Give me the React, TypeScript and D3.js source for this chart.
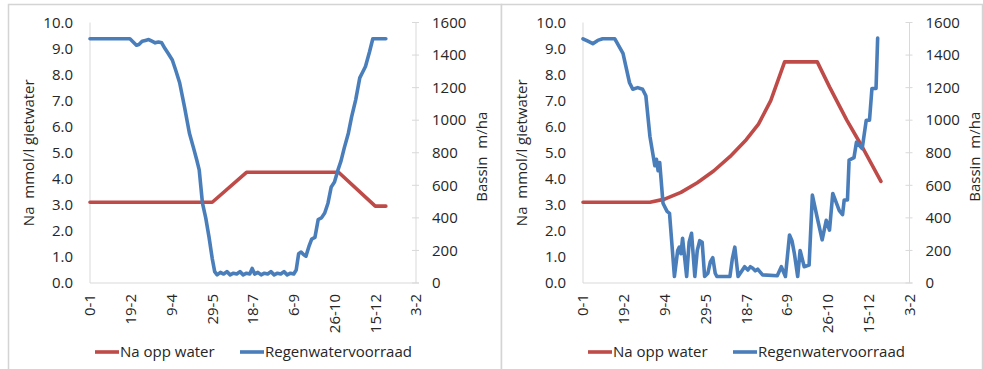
import React, { useEffect, useRef } from 'react';
import * as d3 from 'd3';

// x axis: day number, labelled as d-m every 50 days
const tickDays = [0, 50, 100, 150, 200, 250, 300, 350, 400];
const tickLabels = ["0-1", "19-2", "9-4", "29-5", "18-7", "6-9", "26-10", "15-12", "3-2"];
const naTicks = [0, 1, 2, 3, 4, 5, 6, 7, 8, 9, 10];
const rainTicks = [0, 200, 400, 600, 800, 1000, 1200, 1400, 1600];

const seriesNames = ["Na opp water", "Regenwatervoorraad"];

// left chart
const naLeft: [number, number][] = [
  [0, 3.1], [150, 3.1], [192, 4.25], [305, 4.25], [350, 2.95], [363, 2.95],
];
const rainLeft: [number, number][] = [
  [0, 1500], [49, 1500], [53, 1480], [57, 1460], [60, 1465], [64, 1485], [68, 1490], [72, 1495],
  [76, 1485], [80, 1475], [84, 1480], [88, 1475], [92, 1440], [96, 1410], [101, 1370], [105, 1310],
  [110, 1230], [116, 1080], [122, 920], [127, 830], [131, 755], [134, 695], [138, 490], [142, 400],
  [146, 283], [150, 150], [153, 70], [156, 50], [160, 65], [164, 55], [168, 70], [172, 50],
  [176, 60], [180, 55], [184, 70], [188, 50], [192, 60], [196, 55], [199, 90], [202, 55],
  [206, 65], [210, 50], [214, 60], [218, 55], [222, 70], [226, 50], [230, 60], [234, 55],
  [238, 70], [242, 50], [246, 60], [250, 55], [253, 80], [256, 180], [259, 190], [262, 175],
  [265, 165], [269, 230], [272, 270], [276, 280], [280, 390], [284, 400], [288, 430], [292, 490],
  [296, 590], [300, 620], [304, 690], [308, 750], [312, 830], [317, 920], [321, 1020], [326, 1125],
  [331, 1260], [334, 1290], [338, 1330], [343, 1420], [347, 1500], [363, 1500],
];

// right chart
const naRight: [number, number][] = [
  [0, 3.1], [82, 3.1], [100, 3.22], [120, 3.48], [140, 3.85], [160, 4.3], [180, 4.85],
  [200, 5.5], [215, 6.1], [230, 7.0], [247, 8.49], [287, 8.49], [302, 7.53], [323, 6.26],
  [342, 5.23], [365, 3.9],
];
const rainRight: [number, number][] = [
  [0, 1500], [6, 1485], [12, 1470], [18, 1490], [24, 1500], [39, 1500], [49, 1410], [57, 1230],
  [61, 1190], [67, 1200], [73, 1190], [77, 1150], [82, 900], [86, 780], [88, 720], [90, 760],
  [92, 690], [94, 740], [98, 490], [103, 440], [106, 428], [112, 40], [116, 200], [118, 220],
  [120, 180], [122, 275], [127, 40], [130, 250], [133, 305], [137, 40], [140, 200], [143, 260],
  [146, 250], [149, 40], [153, 60], [156, 130], [159, 155], [162, 60], [164, 40], [180, 40],
  [183, 150], [186, 220], [190, 40], [198, 100], [202, 80], [205, 100], [208, 90], [211, 75],
  [214, 85], [220, 50], [238, 45], [243, 100], [248, 40], [253, 295], [256, 260], [259, 180],
  [263, 40], [266, 200], [271, 100], [277, 110], [281, 540], [287, 400], [293, 265], [298, 385],
  [302, 325], [306, 550], [314, 445], [318, 420], [320, 510], [324, 510], [326, 755], [332, 770],
  [335, 865], [342, 825], [347, 1000], [351, 1000], [354, 1195], [359, 1195], [361, 1505],
];

interface PanelSpec {
  x0: number;
  x1: number;
  plotLeft: number;
  plotRight: number;
  rightTitleOffset: number;
  na: [number, number][];
  rain: [number, number][];
}

const panels: PanelSpec[] = [
  { x0: 8, x1: 501, plotLeft: 90, plotRight: 416, rightTitleOffset: 71, na: naLeft, rain: rainLeft },
  { x0: 501, x1: 982, plotLeft: 583, plotRight: 909.5, rightTitleOffset: 70, na: naRight, rain: rainRight },
];

const RED = "#be4b48";
const BLUE = "#4a7ebb";
const FONT = "'Open Sans', sans-serif";
const LW = 3.6;

const App: React.FC = () => {
  const svgRef = useRef<SVGSVGElement>(null);

  useEffect(() => {
    if (!svgRef.current) return;
    const svg = d3.select(svgRef.current);
    svg.selectAll("*").remove();

    const top = 22.5;
    const bottom = 283;

    panels.forEach(p => {
      const g = svg.append("g");

      g.append("rect")
        .attr("x", p.x0 + 0.5)
        .attr("y", 4.5)
        .attr("width", p.x1 - p.x0)
        .attr("height", 380)
        .attr("fill", "#fff")
        .attr("stroke", "#d4d4d4")
        .attr("stroke-width", 1.5);

      const x = d3.scaleLinear().domain([0, 400]).range([p.plotLeft, p.plotRight]);
      const yNa = d3.scaleLinear().domain([0, 10]).range([bottom, top]);
      const yRain = d3.scaleLinear().domain([0, 1600]).range([bottom, top]);

      // axis lines
      g.append("line")
        .attr("x1", p.plotLeft).attr("x2", p.plotLeft)
        .attr("y1", top).attr("y2", bottom)
        .attr("stroke", "#d9d9d9");
      g.append("line")
        .attr("x1", p.plotRight).attr("x2", p.plotRight)
        .attr("y1", top).attr("y2", bottom)
        .attr("stroke", "#d9d9d9");
      g.append("line")
        .attr("x1", p.plotLeft).attr("x2", p.plotRight + 3)
        .attr("y1", bottom).attr("y2", bottom)
        .attr("stroke", "#d9d9d9");

      // right axis tick marks
      g.selectAll(".rtick")
        .data(rainTicks)
        .join("line")
        .attr("x1", p.plotRight - 4).attr("x2", p.plotRight + 3)
        .attr("y1", d => yRain(d)).attr("y2", d => yRain(d))
        .attr("stroke", "#d9d9d9");

      // left tick labels
      g.selectAll(".nalab")
        .data(naTicks)
        .join("text")
        .attr("x", p.plotLeft - 17)
        .attr("y", d => yNa(d))
        .attr("dy", "0.35em")
        .attr("text-anchor", "end")
        .style("font-family", FONT)
        .style("font-size", "15px")
        .style("fill", "#262626")
        .text(d => d3.format(".1f")(d));

      // right tick labels
      g.selectAll(".rainlab")
        .data(rainTicks)
        .join("text")
        .attr("x", p.plotRight + 16)
        .attr("y", d => yRain(d))
        .attr("dy", "0.35em")
        .attr("text-anchor", "start")
        .style("font-family", FONT)
        .style("font-size", "15px")
        .style("fill", "#262626")
        .text(d => String(d));

      // x tick labels (rotated)
      g.selectAll(".xlab")
        .data(tickDays)
        .join("text")
        .attr("transform", d => `translate(${x(d)},294) rotate(-90)`)
        .attr("dy", "0.35em")
        .attr("text-anchor", "end")
        .style("font-family", FONT)
        .style("font-size", "15px")
        .style("fill", "#262626")
        .text((d, i) => tickLabels[i]);

      // axis titles
      const midY = (top + bottom) / 2;
      g.append("text")
        .attr("transform", `translate(${p.plotLeft - 56},${midY}) rotate(-90)`)
        .attr("text-anchor", "middle")
        .style("font-family", FONT)
        .style("font-size", "15px")
        .style("fill", "#262626")
        .style("white-space", "pre")
        .text("Na  mmol/l gietwater");
      g.append("text")
        .attr("transform", `translate(${p.plotRight + p.rightTitleOffset},${midY + 4}) rotate(-90)`)
        .attr("text-anchor", "middle")
        .style("font-family", FONT)
        .style("font-size", "15px")
        .style("fill", "#262626")
        .style("white-space", "pre")
        .text("Bassin  m/ha");

      // series
      const naLine = d3.line<[number, number]>()
        .x(d => x(d[0]))
        .y(d => yNa(d[1]));
      const rainLine = d3.line<[number, number]>()
        .x(d => x(d[0]))
        .y(d => yRain(d[1]));

      g.append("path")
        .attr("d", naLine(p.na) ?? "")
        .attr("fill", "none")
        .attr("stroke", RED)
        .attr("stroke-width", LW)
        .attr("stroke-linejoin", "round")
        .attr("stroke-linecap", "round");

      g.append("path")
        .attr("d", rainLine(p.rain) ?? "")
        .attr("fill", "none")
        .attr("stroke", BLUE)
        .attr("stroke-width", LW)
        .attr("stroke-linejoin", "round")
        .attr("stroke-linecap", "round");

      // legend
      const ly = 352;
      const items = [
        { color: RED, x: p.plotLeft + 5, name: seriesNames[0] },
        { color: BLUE, x: p.plotLeft + 150, name: seriesNames[1] },
      ];
      items.forEach(it => {
        g.append("line")
          .attr("x1", it.x).attr("x2", it.x + 24)
          .attr("y1", ly).attr("y2", ly)
          .attr("stroke", it.color)
          .attr("stroke-width", LW);
        g.append("text")
          .attr("x", it.x + 25)
          .attr("y", ly)
          .attr("dy", "0.35em")
          .style("font-family", FONT)
          .style("font-size", "15px")
          .style("fill", "#262626")
          .text(it.name);
      });
    });
  }, []);

  return (
    <svg
      ref={svgRef}
      width={983}
      height={369}
      style={{ position: "absolute", left: 0, top: 0, background: "#fff" }}
    />
  );
};

export default App;
